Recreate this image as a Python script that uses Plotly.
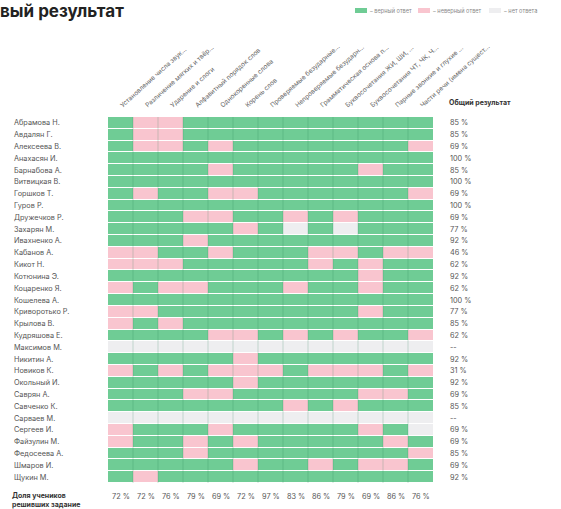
import plotly.graph_objects as go

title_text = "вый результат"

tasks = [
    "Установление числа звук...",
    "Различение мягких и твёр...",
    "Ударение и слоги",
    "Алфавитный порядок слов",
    "Однокоренные слова",
    "Корень слов",
    "Проверяемые безударные...",
    "Непроверяемые безударн...",
    "Грамматическая основа п...",
    "Буквосочетания ЖИ, ШИ, ...",
    "Буквосочетания ЧТ, ЧК, Ч...",
    "Парные звонкие и глухие ...",
    "Части речи (имена сущест...",
]

students = [
    "Абрамова Н.", "Авдалян Г.", "Алексеева В.", "Анахасян И.", "Барнабова А.",
    "Витвицкая В.", "Горшков Т.", "Гуров Р.", "Дружечков Р.", "Захарян М.",
    "Ивахненко А.", "Кабанов А.", "Кикот Н.", "Котюнина Э.", "Коцаренко Я.",
    "Кошелева А.", "Криворотько Р.", "Крылова В.", "Кудряшова Е.", "Максимов М.",
    "Никитин А.", "Новиков К.", "Окольный И.", "Саврян А.", "Савченко К.",
    "Сарваев М.", "Сергеев И.", "Файзулин М.", "Федосеева А.", "Шмаров И.",
    "Щукин М.",
]

# '1' = верный ответ, '0' = неверный ответ, '-' = нет ответа
answers = [
    "1001111111111", "1001111111111", "1001011111110", "1111111111111",
    "1111011111011", "1111111111111", "1011001111110", "1111111111111",
    "1110011010111", "1111101-1-111", "1110111111111", "0011011100100",
    "0001111101011", "1111111111011", "0100111011011", "1111111111111",
    "0011111111011", "0101111111111", "1111001010110", "-------------",
    "1111101111111", "0101000100010", "1111101111111", "1110011111001",
    "1111111010111", "-------------", "011101111101-", "0110101111101",
    "1110111111110", "1111101101001", "1011111111111",
]

student_totals = [
    "85 %", "85 %", "69 %", "100 %", "85 %", "100 %", "69 %", "100 %", "69 %",
    "77 %", "92 %", "46 %", "62 %", "92 %", "62 %", "100 %", "77 %", "85 %",
    "62 %", "--", "92 %", "31 %", "92 %", "69 %", "85 %", "--", "69 %", "69 %",
    "85 %", "69 %", "92 %",
]

task_shares = ["72 %", "72 %", "76 %", "79 %", "69 %", "72 %", "97 %", "83 %",
               "86 %", "79 %", "69 %", "86 %", "76 %"]

legend_labels = ["– верный ответ", "– неверный ответ", "– нет ответа"]

GREEN = "#6fcc95"
PINK = "#f9c5cf"
GREY = "#eeeef0"
FONT = "Inter"

code = {"1": 2, "0": 1, "-": 0}
z = [[code[c] for c in row] for row in answers]

fig = go.Figure()
fig.add_trace(go.Heatmap(
    z=z,
    x=list(range(len(tasks))),
    y=list(range(len(students))),
    zmin=0, zmax=2,
    colorscale=[[0, GREY], [0.333, GREY], [0.333, PINK], [0.667, PINK],
                [0.667, GREEN], [1, GREEN]],
    showscale=False,
    ygap=1,
    hoverinfo="skip",
))

W, H = 561, 509
L, R, T, B = 108, 128, 117, 26
pw, ph = W - L - R, H - T - B


def px(xp):
    return (xp - L) / pw


def py(yp):
    return (H - B - yp) / ph


annotations = []
for i, name in enumerate(students):
    annotations.append(dict(x=px(12), y=i, xref="paper", yref="y", text=name,
                            xanchor="left", yanchor="middle", showarrow=False,
                            font=dict(size=7.3, color="#555", family=FONT)))
    annotations.append(dict(x=px(448), y=i, xref="paper", yref="y",
                            text=student_totals[i], xanchor="left",
                            yanchor="middle", showarrow=False,
                            font=dict(size=7.3, color="#555", family=FONT)))
annotations.append(dict(x=px(447), y=py(103), xref="paper", yref="paper",
                        text="<b>Общий результат</b>", xanchor="left",
                        yanchor="middle", showarrow=False,
                        font=dict(size=7, color="#333", family=FONT)))
for j, share in enumerate(task_shares):
    annotations.append(dict(x=j, y=py(496), xref="x", yref="paper", text=share,
                            xanchor="center", yanchor="middle", showarrow=False,
                            font=dict(size=7.3, color="#555", family=FONT)))
annotations.append(dict(x=px(10), y=py(489), xref="paper", yref="paper",
                        text="<b>Доля учеников<br>решивших задание</b>",
                        xanchor="left", yanchor="top", showarrow=False,
                        align="left",
                        font=dict(size=7, color="#333", family=FONT)))
annotations.append(dict(x=px(-2), y=py(11), xref="paper", yref="paper",
                        text="<b>" + title_text + "</b>", xanchor="left",
                        yanchor="middle", showarrow=False,
                        font=dict(size=17, color="#222", family=FONT)))

shapes = []
sw_colors = [GREEN, PINK, GREY]
sw_x = [355, 418, 489]
for c, x0, lab in zip(sw_colors, sw_x, legend_labels):
    shapes.append(dict(type="rect", xref="paper", yref="paper",
                       x0=px(x0), x1=px(x0 + 12), y0=py(13), y1=py(8),
                       fillcolor=c, line=dict(width=0)))
    annotations.append(dict(x=px(x0 + 13), y=py(10.5), xref="paper",
                            yref="paper", text=lab, xanchor="left",
                            yanchor="middle", showarrow=False,
                            font=dict(size=5.6, color="#888", family=FONT)))

for j in range(1, len(tasks)):
    shapes.append(dict(type="line", xref="x", yref="paper", x0=j - 0.5,
                       x1=j - 0.5, y0=0, y1=1, layer="above",
                       line=dict(color="rgba(40,130,80,0.22)", width=1)))

fig.update_layout(
    width=W, height=H,
    margin=dict(l=L, r=R, t=T, b=B, pad=0),
    paper_bgcolor="white", plot_bgcolor="white",
    annotations=annotations, shapes=shapes,
    font=dict(family=FONT, color="#555"),
    xaxis=dict(side="top", tickmode="array",
               tickvals=list(range(len(tasks))), ticktext=tasks,
               tickangle=-42, tickfont=dict(size=6.5, color="#666"),
               range=[-0.5, len(tasks) - 0.5], showgrid=False, zeroline=False,
               showline=False, ticks="", ticklabelstandoff=6, fixedrange=True),
    yaxis=dict(range=[len(students) - 0.5, -0.5], showticklabels=False,
               showgrid=False, zeroline=False, showline=False, ticks="",
               fixedrange=True),
    showlegend=False,
)

fig.write_html("out.html",
               config={"displayModeBar": False, "staticPlot": True},
               post_script="document.body.style.margin='0';")
